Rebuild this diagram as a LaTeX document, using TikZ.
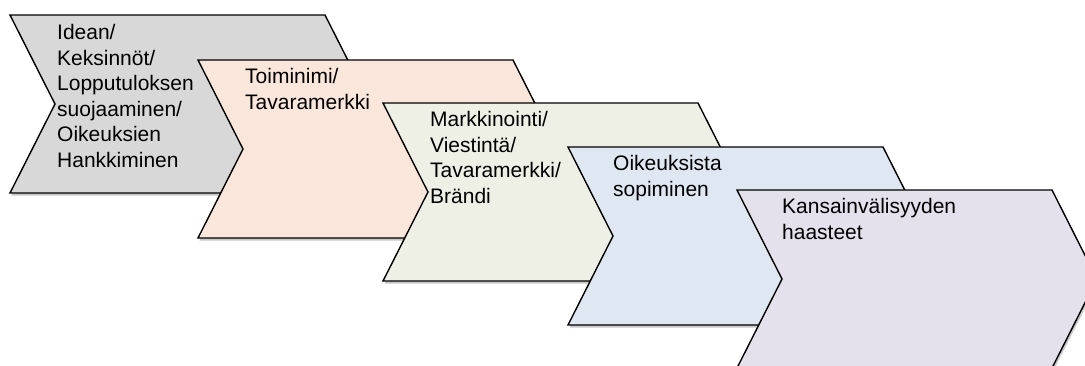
\documentclass[tikz,border=0pt]{standalone}
\usepackage{fontspec}
\setmainfont{Liberation Sans}
\usetikzlibrary{positioning}

\definecolor{ideagray}{HTML}{D8D8D8}
\definecolor{namepink}{HTML}{FBE6DC}
\definecolor{marketgreen}{HTML}{EEF0E6}
\definecolor{dealblue}{HTML}{DFE8F2}
\definecolor{globalviolet}{HTML}{E4E0EC}

\begin{document}
\begin{tikzpicture}[x=1pt, y=-1pt,
				stage/.style={draw=black, line width=1.4pt, line join=miter},
				shade/.style={fill=black!22, draw=none},
				caption/.style={anchor=north west, inner sep=0pt, align=left, font=\fontsize{21}{25.6}\selectfont}
			]
			\useasboundingbox (0,0) rectangle (1085,365);
			\clip (0,0) rectangle (1085,365);
			% chevrons, back to front
			\foreach \px/\py/\col in {10/15/ideagray, 198/60/namepink, 383/103/marketgreen, 568/147/dealblue, 737/190/globalviolet} {
				\fill[shade, shift={(\px+1.5,\py+2.5)}] (0,0) -- (315,0) -- (360,89) -- (315,178) -- (0,178) -- (45,89) -- cycle;
				\draw[stage, fill=\col, shift={(\px,\py)}] (0,0) -- (315,0) -- (360,89) -- (315,178) -- (0,178) -- (45,89) -- cycle;
			}
			% texts
			\node[caption] (idea) at (57,24) {Idean/\\Keksinnöt/\\Lopputuloksen\\suojaaminen/\\Oikeuksien\\Hankkiminen};
			\node[caption] (tradename) at (245,68) {Toiminimi/\\Tavaramerkki};
			\node[caption] (marketing) at (430,111) {Markkinointi/\\Viestintä/\\Tavaramerkki/\\Brändi};
			\node[caption] (contracts) at (613,155) {Oikeuksista\\sopiminen};
			\node[caption] (global) at (782,198) {Kansainvälisyyden\\haasteet};
			\end{tikzpicture}
\end{document}
